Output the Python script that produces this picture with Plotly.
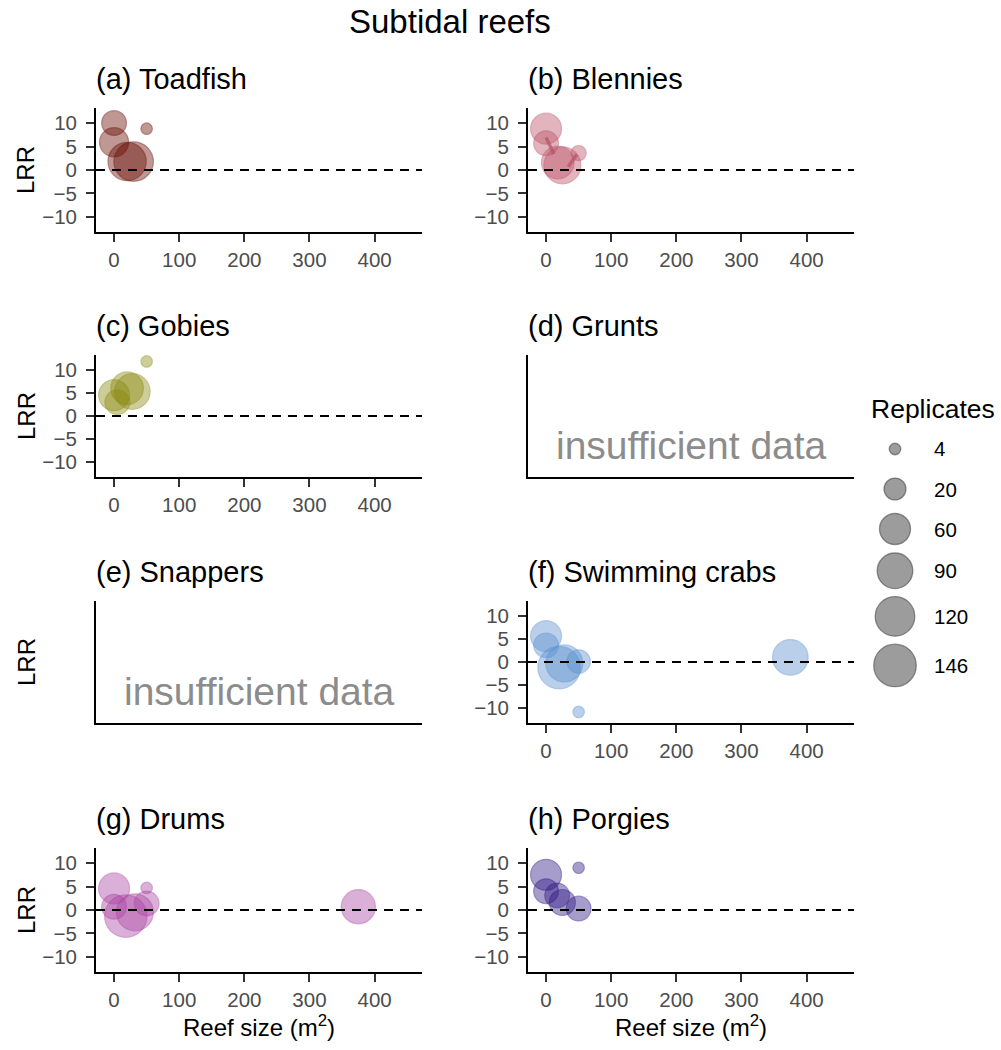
import numpy as np
import plotly.graph_objects as go

W, H = 1001, 1050
FONT = "Liberation Sans, Arial, Helvetica, sans-serif"

# ---------------- data ----------------
toadfish_size = [0, 0, 50, 20, 30]
toadfish_lrr = [10.0, 5.9, 8.8, 1.8, 1.8]
toadfish_reps = [30, 50, 4, 110, 120]

blennies_size = [0, 0, 18, 25, 50]
blennies_lrr = [8.8, 5.7, 1.6, 1.0, 3.6]
blennies_reps = [60, 30, 70, 100, 6]
blennies_seg_x = [[0, 12], [34, 47]]
blennies_seg_y = [[6.9, 3.4], [0.7, 3.3]]

gobies_size = [50, 0, 5, 20, 28]
gobies_lrr = [11.8, 4.5, 3.0, 6.0, 5.3]
gobies_reps = [4, 60, 30, 70, 90]

crabs_size = [0, 0, 20, 28, 50, 50, 375]
crabs_lrr = [5.6, 3.6, -1.2, -0.3, 0.1, -10.8, 1.0]
crabs_reps = [60, 30, 146, 100, 25, 4, 90]

drums_size = [0, 0, 18, 32, 50, 50, 375]
drums_lrr = [4.6, 0.7, -1.3, -0.5, 1.4, 4.7, 0.7]
drums_reps = [60, 30, 146, 100, 30, 4, 80]

porgies_size = [0, 0, 17, 25, 50, 50]
porgies_lrr = [7.5, 4.0, 3.1, 1.6, 0.3, 9.0]
porgies_reps = [60, 30, 30, 35, 30, 4]

legend_breaks = [4, 20, 60, 90, 120, 146]
x_ticks = [0, 100, 200, 300, 400]
y_ticks = [-10, -5, 0, 5, 10]

panel_titles = ["(a) Toadfish", "(b) Blennies", "(c) Gobies", "(d) Grunts",
                "(e) Snappers", "(f) Swimming crabs", "(g) Drums", "(h) Porgies"]
panel_colors = ["104,10,0", "189,82,102", "138,138,16", None,
                None, "90,143,207", "170,68,164", "45,24,131"]
panel_data = [
    (toadfish_size, toadfish_lrr, toadfish_reps),
    (blennies_size, blennies_lrr, blennies_reps),
    (gobies_size, gobies_lrr, gobies_reps),
    None,
    None,
    (crabs_size, crabs_lrr, crabs_reps),
    (drums_size, drums_lrr, drums_reps),
    (porgies_size, porgies_lrr, porgies_reps),
]

# ---------------- layout geometry (pixels) ----------------
COLS = [(96, 422), (528, 854)]
ROWS = [(108, 232), (355, 477), (601, 723), (848, 972)]
X_RANGE = [-27.75, 472.75]
Y_RANGE = [-13.2, 13.2]
ALPHA = 0.6
D_MIN, D_MAX = 11.5, 42.5
N_MIN, N_MAX = min(legend_breaks), max(legend_breaks)


def diam(n):
    n = np.asarray(n, dtype=float)
    return D_MIN + np.sqrt((n - N_MIN) / (N_MAX - N_MIN)) * (D_MAX - D_MIN)


def fx(p):
    return p / W


def fy(p):
    return 1 - p / H


fig = go.Figure()
layout = dict(
    width=W, height=H, margin=dict(l=0, r=0, t=0, b=0),
    paper_bgcolor="white", plot_bgcolor="rgba(0,0,0,0)", showlegend=False,
    font=dict(family=FONT, color="black"),
)
annotations = []
shapes = []

for i in range(8):
    k = i + 1
    sfx = "" if k == 1 else str(k)
    xn, yn = f"x{sfx}", f"y{sfx}"
    r, c = divmod(i, 2)
    x0, x1 = COLS[c]
    y0, y1 = ROWS[r]
    has_data = panel_data[i] is not None
    xa = dict(domain=[fx(x0), fx(x1)], anchor=yn, range=X_RANGE,
              showgrid=False, zeroline=False, showline=True, linecolor="black",
              linewidth=1.9, fixedrange=True)
    ya = dict(domain=[fy(y1), fy(y0)], anchor=xn, range=Y_RANGE,
              showgrid=False, zeroline=False, showline=True, linecolor="black",
              linewidth=1.9, fixedrange=True)
    if has_data:
        tick_common = dict(ticks="outside", ticklen=8, tickwidth=1.8, tickcolor="#333333",
                           tickfont=dict(size=20.5, color="#4d4d4d", family=FONT))
        xa.update(tickmode="array", tickvals=x_ticks, **tick_common)
        ya.update(tickmode="array", tickvals=y_ticks, ticklabelstandoff=5, **tick_common)
    else:
        xa.update(showticklabels=False, ticks="")
        ya.update(showticklabels=False, ticks="")
    layout[f"xaxis{sfx}"] = xa
    layout[f"yaxis{sfx}"] = ya

    # panel title
    annotations.append(dict(text=panel_titles[i], xref="paper", yref="paper",
                            x=fx(x0 - 2), y=fy(y0 - 29), xanchor="left", yanchor="middle",
                            showarrow=False, font=dict(size=29, color="black", family=FONT)))
    if c == 0:
        annotations.append(dict(text="LRR", xref="paper", yref="paper",
                                x=fx(26), y=fy((y0 + y1) / 2), textangle=-90,
                                xanchor="center", yanchor="middle", showarrow=False,
                                font=dict(size=24, color="black", family=FONT)))
    if r == 3:
        annotations.append(dict(text="Reef size (m<sup>2</sup>)", xref="paper", yref="paper",
                                x=fx((x0 + x1) / 2), y=fy(1026), xanchor="center",
                                yanchor="middle", showarrow=False,
                                font=dict(size=24, color="black", family=FONT)))

    if has_data:
        xs, ys, ns = panel_data[i]
        col = panel_colors[i]
        if i == 1:
            for sx, sy in zip(blennies_seg_x, blennies_seg_y):
                fig.add_trace(go.Scatter(x=sx, y=sy, mode="lines", xaxis=xn, yaxis=yn,
                                         line=dict(color="rgba(150,40,70,0.55)", width=3.5),
                                         hoverinfo="skip"))
        fig.add_trace(go.Scatter(
            x=xs, y=ys, mode="markers", xaxis=xn, yaxis=yn,
            marker=dict(size=diam(ns), color=f"rgba({col},{ALPHA})",
                        line=dict(color=f"rgba({col},{ALPHA})", width=1.2)),
            cliponaxis=True, hovertext=[str(n) for n in ns]))
        shapes.append(dict(type="line", xref=f"{xn} domain", x0=0, x1=1,
                           yref=yn, y0=0, y1=0,
                           line=dict(color="black", width=2, dash="9px,7px")))
    else:
        # empty placeholder trace so the subplot exists
        fig.add_trace(go.Scatter(x=[], y=[], mode="markers", xaxis=xn, yaxis=yn,
                                 hoverinfo="skip"))
        annotations.append(dict(text="insufficient data", xref="paper",
                                yref="paper", x=fx((x0 + x1) / 2),
                                y=fy(y1 - 0.26 * (y1 - y0)), xanchor="center",
                                yanchor="middle", showarrow=False,
                                font=dict(size=39, color="#8c8c8c", family=FONT)))

# main title
annotations.append(dict(text="Subtidal reefs", xref="paper", yref="paper",
                        x=fx(450), y=fy(22), xanchor="center", yanchor="middle",
                        showarrow=False, font=dict(size=33, color="black", family=FONT)))

# ---------------- size legend (drawn on a pixel-unit overlay axis) ----------------
leg_d = diam(legend_breaks)
key_h = np.maximum(leg_d + 8, 40)
leg_top = 429
leg_centers = leg_top + np.cumsum(key_h) - key_h / 2
layout["xaxis9"] = dict(domain=[0, 1], range=[0, W], visible=False, anchor="y9", fixedrange=True)
layout["yaxis9"] = dict(domain=[0, 1], range=[H, 0], visible=False, anchor="x9", fixedrange=True)
fig.add_trace(go.Scatter(
    x=[895] * len(legend_breaks), y=leg_centers, mode="markers", xaxis="x9", yaxis="y9",
    marker=dict(size=leg_d, color="rgba(0,0,0,0.55)",
                line=dict(color="rgba(0,0,0,0.6)", width=1.3)),
    hoverinfo="skip"))
for b, yc in zip(legend_breaks, leg_centers):
    annotations.append(dict(text=str(b), xref="paper", yref="paper", x=fx(932), y=fy(yc),
                            xanchor="left", yanchor="middle", showarrow=False,
                            font=dict(size=20.5, color="black", family=FONT)))
annotations.append(dict(text="Replicates", xref="paper", yref="paper",
                        x=fx(869), y=fy(409), xanchor="left", yanchor="middle",
                        showarrow=False, font=dict(size=26.5, color="black", family=FONT)))

layout["annotations"] = annotations
layout["shapes"] = shapes
fig.update_layout(**layout)
fig.write_html("out.html")
